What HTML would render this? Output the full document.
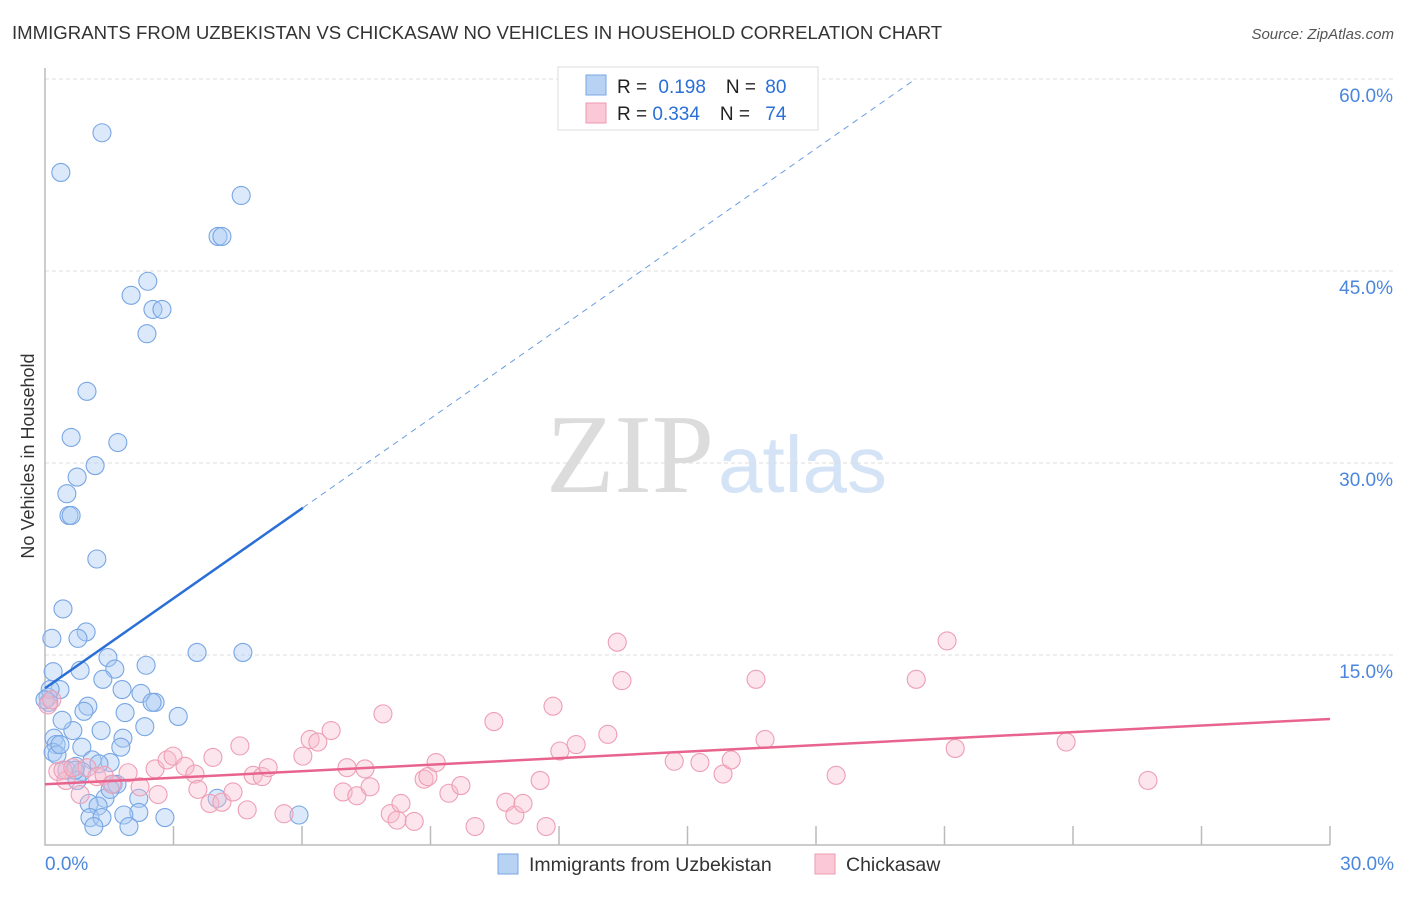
<!DOCTYPE html>
<html><head><meta charset="utf-8"><style>
body{margin:0;background:#fff;font-family:"Liberation Sans",sans-serif;}
svg text{font-family:"Liberation Sans",sans-serif;}
</style></head><body>
<svg id="c" width="1406" height="892" xmlns="http://www.w3.org/2000/svg">
<text x="12" y="39" font-size="18.6" fill="#333">IMMIGRANTS FROM UZBEKISTAN VS CHICKASAW NO VEHICLES IN HOUSEHOLD CORRELATION CHART</text>
<text x="1394" y="39" font-size="15" fill="#555" font-style="italic" text-anchor="end">Source: ZipAtlas.com</text>
<text x="714" y="492" font-size="112" fill="#dcdcdc" text-anchor="end" style="font-family:'Liberation Serif',serif">ZIP</text>
<text x="718" y="492" font-size="80" fill="#d4e3f6">atlas</text>
<text transform="translate(34,456) rotate(-90)" font-size="18" fill="#333" text-anchor="middle">No Vehicles in Household</text>
<g id="grid"></g><g id="marks"></g><g id="trend"></g>
<g>
<rect x="558" y="67" width="260" height="63" fill="#fff" stroke="#ddd"/>
<rect x="586" y="75" width="20" height="20" fill="#b8d2f4" stroke="#7aa6e6"/>
<rect x="586" y="103" width="20" height="20" fill="#fac8d6" stroke="#ee9ab2"/>
<text x="617" y="93" font-size="19" fill="#222">R = <tspan fill="#2a6fd6" dx="6">0.198</tspan><tspan dx="20" fill="#222">N = </tspan><tspan fill="#2a6fd6" dx="4">80</tspan></text>
<text x="617" y="120" font-size="19" fill="#222">R = <tspan fill="#2a6fd6">0.334</tspan><tspan dx="20" fill="#222">N = </tspan><tspan fill="#2a6fd6" dx="10">74</tspan></text>
</g>
<g>
<rect x="498" y="854" width="20" height="20" fill="#b8d2f4" stroke="#7aa6e6"/>
<text x="529" y="871" font-size="19.5" fill="#333">Immigrants from Uzbekistan</text>
<rect x="815" y="854" width="20" height="20" fill="#fac8d6" stroke="#ee9ab2"/>
<text x="846" y="871" font-size="19.5" fill="#333">Chickasaw</text>
</g>
</svg>
<script>
const yTicks=[15,30,45,60];
const yTickLabels=["15.0%","30.0%","45.0%","60.0%"];
const xTickLabels=["0.0%","30.0%"];
const blueX=[1.33,0.37,4.58,4.04,4.13,2.40,2.01,2.52,2.73,2.38,0.98,0.61,1.70,1.17,0.75,0.51,0.56,0.61,1.21,0.42,0.16,0.96,0.77,0.82,1.47,1.63,2.36,3.55,4.62,0.19,0.35,1.35,1.80,2.24,2.57,2.50,0.07,0.09,1.00,0.91,1.87,3.11,2.33,0.21,0.65,1.31,0.26,0.86,0.19,0.28,1.82,1.77,1.10,1.52,1.26,0.51,0.72,0.86,0.75,1.59,1.68,1.40,2.19,4.02,1.03,1.24,2.19,1.84,2.80,1.05,1.33,1.14,1.96,5.93,0.12,0.35,0.70,0.40,0.0,1.52];
const blueY=[55.8,52.7,50.9,47.7,47.7,44.2,43.1,42.0,42.0,40.1,35.6,32.0,31.6,29.8,28.9,27.6,25.9,25.9,22.5,18.6,16.3,16.8,16.3,13.8,14.8,13.9,14.2,15.2,15.2,13.7,12.3,13.1,12.3,12.0,11.3,11.3,11.7,11.3,11.0,10.6,10.5,10.2,9.4,8.5,9.1,9.1,8.0,7.8,7.4,7.2,8.5,7.8,6.8,6.6,6.5,6.0,6.3,5.9,5.2,4.9,4.9,3.8,3.8,3.8,3.4,3.2,2.7,2.5,2.3,2.3,2.3,1.6,1.6,2.5,12.3,8.0,6.0,9.9,11.5,4.5];
const pinkX=[0.07,0.16,0.30,0.49,0.42,0.65,0.98,1.21,1.38,1.56,1.94,2.22,2.57,2.64,2.85,2.99,3.27,3.50,3.57,3.85,3.92,4.13,4.39,4.55,4.72,4.86,5.07,5.21,5.58,6.02,6.19,6.37,6.68,7.05,6.96,7.28,7.47,7.59,7.89,8.06,8.31,8.22,8.62,8.85,8.94,9.13,9.43,9.71,10.04,10.48,10.76,10.97,11.16,11.56,11.70,11.86,12.02,12.40,13.14,13.36,13.47,14.69,15.29,15.83,16.02,16.60,16.81,18.47,20.34,21.06,21.25,23.84,25.75,0.82];
const pinkY=[11.1,11.5,5.9,5.2,6.0,6.2,6.2,5.5,5.6,4.9,5.8,4.7,6.1,4.1,6.8,7.1,6.3,5.7,4.5,3.4,7.0,3.5,4.3,7.9,2.9,5.6,5.5,6.2,2.6,7.1,8.4,8.2,9.1,6.2,4.3,4.0,6.1,4.7,10.4,2.6,3.4,2.1,2.0,5.3,5.5,6.6,4.2,4.8,1.6,9.8,3.5,2.5,3.4,5.2,1.6,11.0,7.5,8.0,8.8,16.0,13.0,6.7,6.6,5.7,6.8,13.1,8.4,5.6,13.1,16.1,7.7,8.2,5.2,4.1];
const blueTrend=[0,12.4,6.02,26.5,20.3];
const pinkTrend=[0,4.9,30,10.0];
const NS='http://www.w3.org/2000/svg';
const X=v=>45+v*1285/30, Y=v=>847-v*12.8;
function mk(t,a,p){const e=document.createElementNS(NS,t);for(const k in a)e.setAttribute(k,a[k]);p.appendChild(e);return e;}
const grid=document.getElementById('grid'),marks=document.getElementById('marks'),tr=document.getElementById('trend');
yTicks.forEach((v,i)=>{
 const l=mk('line',{x1:45,x2:1394,y1:Y(v),y2:Y(v),stroke:'#ddd','stroke-dasharray':'4,3'},grid);
 
 
 const t=mk('text',{x:1393,y:Y(v)+23,'font-size':19,fill:'#4a86dc','text-anchor':'end'},grid);
 t.textContent=yTickLabels[i];
 
 
});
const ax=mk('path',{d:'M45,68 V845 H1330',fill:'none',stroke:'#bbb','stroke-width':1.5},grid);


for(let i=1;i<=10;i++){const tk=mk('line',{x1:X(i*3),x2:X(i*3),y1:826,y2:845,stroke:'#bbb','stroke-width':1.5},grid);
 
 }
[[0,'start',45],[30,'end',1394]].forEach((d,i)=>{const t=mk('text',{x:d[2],y:870,'font-size':19,fill:'#4a86dc','text-anchor':d[1]},grid);t.textContent=xTickLabels[i];
 
 });
blueX.forEach((v,i)=>{const c=mk('circle',{cx:X(v),cy:Y(blueY[i]),r:9,fill:'rgba(170,202,242,0.42)',stroke:'#78a6e4','stroke-width':1.1},marks);
 
 });
pinkX.forEach((v,i)=>{const c=mk('circle',{cx:X(v),cy:Y(pinkY[i]),r:9,fill:'rgba(246,186,204,0.38)',stroke:'#ee9eb5','stroke-width':1.1},marks);
 
 });
const s=(blueTrend[3]-blueTrend[1])/(blueTrend[2]-blueTrend[0]);
const b1=mk('line',{x1:X(blueTrend[0]),y1:Y(blueTrend[1]),x2:X(blueTrend[2]),y2:Y(blueTrend[3]),stroke:'#2a6fd6','stroke-width':2.5},tr);


const b2=mk('line',{x1:X(blueTrend[2]),y1:Y(blueTrend[3]),x2:X(blueTrend[4]),y2:Y(blueTrend[1]+s*blueTrend[4]),stroke:'#6a9de0','stroke-width':1,'stroke-dasharray':'6,5'},tr);


const p1=mk('line',{x1:X(pinkTrend[0]),y1:Y(pinkTrend[1]),x2:X(pinkTrend[2]),y2:Y(pinkTrend[3]),stroke:'#e8648e','stroke-width':2.5},tr);


</script>
</body></html>
